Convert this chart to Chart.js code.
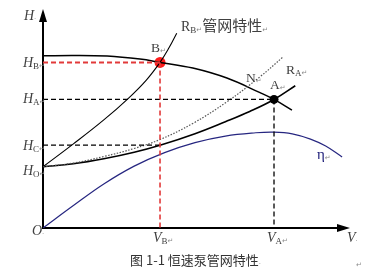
<!DOCTYPE html>
<html><head><meta charset="utf-8">
<script src="https://cdn.jsdelivr.net/npm/chart.js@4/dist/chart.umd.min.js"></script>
<style>html,body{margin:0;padding:0;background:#fff;overflow:hidden}#wrap{width:378px;height:270px;position:relative}</style>
</head><body><div id="wrap"><canvas id="c" width="378" height="270"></canvas></div>
<script>
// ---- data (V = flow, H = head, eta = efficiency) ----
const V_pump=[0,9.9,21.1,31.9,38.5,49.3,60.5,71.4,76.0,81.9];
const H_pump=[79.0,79.2,78.9,77.5,76.0,73.4,68.8,62.1,59.0,54.1];
const V_RB=[0,10,20,28,34,38.5,41.5,44];
const H_RB=[28.1,38.6,49.6,59.4,67.9,76.0,82.8,89.4];
const V_RA=[0,10,20,30,38.5,50,60,68,76,83];
const H_RA=[28.1,29.5,31.8,34.8,38.0,43.3,48.8,53.5,59.0,65.3];
const V_N=[0,10,20,30,38.5,49.3,60.5,71.4,78.9];
const H_N=[28.1,29.8,32.8,36.5,40.6,48.0,57.9,69.4,78.4];
const V_eta=[0,10,20,30,40,50,60,70,76,82,88,93,98.4];
const ETA=[0,10.3,20.2,28.4,34.6,39.2,42.2,43.7,44.0,43.2,40.8,37.6,32.6];
const V_B=38.5, V_A=76.0;
const H_B=76.0, H_A=59.0, H_C=38.0, H_O=28.1;
const caption="图 1-1 恒速泵管网特性";

const pts=(xs,ys)=>xs.map((x,i)=>({x:x,y:ys[i]}));
const SERIF='"Liberation Serif","DejaVu Serif",serif';
const CJK='"Noto Sans CJK SC","Noto Sans CJK JP",sans-serif';
const TXT='#404040';
const MARK='#8a8a8a';

function curve(data,color,width,extra){
  return Object.assign({data:data,showLine:true,borderColor:color,borderWidth:width,pointRadius:0,
    fill:false,tension:0.4},extra||{});
}
function seg(data,color,width,dash){
  return {data:data,showLine:true,borderColor:color,borderWidth:width,borderDash:dash,pointRadius:0,fill:false,tension:0};
}

function drawParts(ctx,x,y,parts){
  let cx=x;
  for(const p of parts){
    ctx.font=p.f; ctx.fillStyle=p.c||TXT;
    ctx.fillText(p.t,cx,y+(p.dy||0));
    cx+=ctx.measureText(p.t).width+(p.gap||0);
  }
}
const I=(t)=>({t:t,f:'italic 14px '+SERIF});
const R=(t,s)=>({t:t,f:(s||13.5)+'px '+SERIF});
const S=(t)=>({t:t,f:'9px '+SERIF,dy:2});
const M=(t)=>({t:t||'↵',f:'7px "DejaVu Sans"',c:MARK,dy:1});

const deco={
  id:'deco',
  beforeDatasetsDraw(chart){
    const ctx=chart.ctx, xs=chart.scales.x, ys=chart.scales.y;
    const x0=xs.getPixelForValue(0), y0=ys.getPixelForValue(0);
    const xt=xs.getPixelForValue(xs.max), yt=ys.getPixelForValue(ys.max);
    ctx.save();
    ctx.strokeStyle='#000'; ctx.fillStyle='#000'; ctx.lineWidth=2;
    ctx.beginPath(); ctx.moveTo(x0,y0+1); ctx.lineTo(x0,yt+12); ctx.stroke();
    ctx.beginPath(); ctx.moveTo(x0-1,y0); ctx.lineTo(xt-12,y0); ctx.stroke();
    ctx.beginPath(); ctx.moveTo(x0,yt); ctx.lineTo(x0-4,yt+13); ctx.lineTo(x0+4,yt+13); ctx.closePath(); ctx.fill();
    ctx.beginPath(); ctx.moveTo(xt,y0); ctx.lineTo(xt-13,y0-4); ctx.lineTo(xt-13,y0+4); ctx.closePath(); ctx.fill();
    ctx.restore();
  },
  afterDatasetsDraw(chart){
    const ctx=chart.ctx, xs=chart.scales.x, ys=chart.scales.y;
    const py=v=>ys.getPixelForValue(v), px=v=>xs.getPixelForValue(v);
    ctx.save(); ctx.textBaseline='alphabetic'; ctx.textAlign='left';
    drawParts(ctx,24,20,[I('H'),M('·')]);
    drawParts(ctx,23,py(H_B)+4.5,[I('H'),S('B'),M()]);
    drawParts(ctx,23,py(H_A)+4,[I('H'),S('A'),M()]);
    drawParts(ctx,23,py(H_C)+5,[I('H'),S('C'),M()]);
    drawParts(ctx,23,py(H_O)+8,[I('H'),S('O'),M()]);
    drawParts(ctx,32,py(0)+7,[I('O'),M('·')]);
    drawParts(ctx,px(V_B)-7,py(0)+14,[I('V'),S('B'),M()]);
    drawParts(ctx,px(V_A)-7,py(0)+14,[I('V'),S('A'),M()]);
    drawParts(ctx,px(xs.max)-3,py(0)+14,[I('V'),M('·')]);
    drawParts(ctx,151,52,[R('B'),M()]);
    drawParts(ctx,181,31,[R('R',14),S('B'),M(),{t:'管网特性',f:'15px '+CJK,c:TXT},M()]);
    drawParts(ctx,246,82,[R('N'),M()]);
    drawParts(ctx,286,74,[R('R'),S('A'),M()]);
    drawParts(ctx,270,89,[R('A'),M()]);
    drawParts(ctx,317,159,[{t:'η',f:'15px '+SERIF,c:'#1c1c78'},M()]);
    drawParts(ctx,130,265,[{t:caption,f:'13px '+CJK,c:'#333'},M('·')]);
    ctx.font='7px "DejaVu Sans"'; ctx.fillStyle=MARK; ctx.fillText('↵',356,267);
    ctx.restore();
  }
};

new Chart(document.getElementById('c'),{
  type:'scatter',
  data:{datasets:[
    seg([{x:0,y:H_B},{x:V_B,y:H_B}],'#e23a3a',2,[5,3]),
    seg([{x:V_B,y:H_B},{x:V_B,y:0}],'#e23a3a',1.6,[5,3]),
    seg([{x:0,y:H_A},{x:V_A,y:H_A}],'#000',1.3,[5,3]),
    seg([{x:V_A,y:H_A},{x:V_A,y:0}],'#000',1.3,[5,3]),
    seg([{x:0,y:H_C},{x:V_B,y:H_C}],'#000',1.3,[5,3]),
    curve(pts(V_eta,ETA),'#262680',1.2),
    curve(pts(V_N,H_N),'#555',1.2,{borderDash:[1.5,1.5]}),
    curve(pts(V_RA,H_RA),'#000',1.6),
    curve(pts(V_RB,H_RB),'#000',1.1),
    curve(pts(V_pump,H_pump),'#000',1.5),
    {data:[{x:V_B,y:H_B}],pointRadius:5.5,pointBackgroundColor:'#ff1a1a',pointBorderColor:'#ff1a1a',pointBorderWidth:0,showLine:false},
    {data:[{x:V_A,y:H_A}],pointRadius:4.5,pointBackgroundColor:'#000',pointBorderColor:'#000',pointBorderWidth:0,showLine:false}
  ]},
  options:{
    responsive:false,animation:false,devicePixelRatio:1,
    layout:{padding:{left:43,right:28,top:9,bottom:42}},
    plugins:{legend:{display:false},tooltip:{enabled:false}},
    elements:{point:{hoverRadius:0}},
    scales:{
      x:{type:'linear',min:0,max:101,display:false},
      y:{type:'linear',min:0,max:100.5,display:false}
    }
  },
  plugins:[deco]
});
</script></body></html>
